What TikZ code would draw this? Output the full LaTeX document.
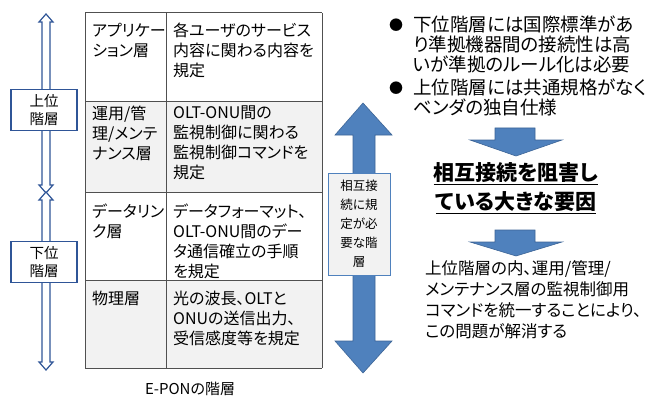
\documentclass[tikz,border=0pt]{standalone}
\usepackage{fontspec}
\setmainfont{Noto Sans CJK JP}[RawFeature=+palt]
\definecolor{arrowblue}{RGB}{79,129,189}
\definecolor{edgeblue}{RGB}{60,100,150}
\definecolor{lineblue}{RGB}{47,85,151}
\definecolor{bandgray}{RGB}{242,242,242}
\definecolor{gridgray}{RGB}{80,80,80}

\begin{document}
\begin{tikzpicture}[x=1pt, y=-1pt,
    cell/.style={anchor=north west, align=left, inner sep=0pt, font=\fontsize{16}{20}\selectfont},
    tag/.style={draw=lineblue, fill=white, line width=1.2pt, minimum width=66pt, minimum height=41pt, inner sep=0pt, align=center, font=\fontsize{14.5}{18}\selectfont},
    hollowarrow/.style={draw=lineblue, fill=white, line width=1.2pt, line join=miter},
    bluearrow/.style={fill=arrowblue, draw=edgeblue, line width=0.6pt},
    bodytext/.style={anchor=north west, align=left, inner sep=0pt, font=\fontsize{18.5}{20}\selectfont}]
    \useasboundingbox (0,0) rectangle (650,401);
    % Left arrows
    \draw[hollowarrow] (46,14) -- (53,22) -- (50,22) -- (50,185) -- (53,185) -- (46,193)
        -- (39,185) -- (42,185) -- (42,22) -- (39,22) -- cycle;
    \draw[hollowarrow] (46,192) -- (53,200) -- (50,200) -- (50,362) -- (53,362) -- (46,370)
        -- (39,362) -- (42,362) -- (42,200) -- (39,200) -- cycle;
    \node[tag] (upper) at (44,110) {上位\\階層};
    \node[tag] (lower) at (44,262) {下位\\階層};
    % Table of layers
    \fill[bandgray] (85,102) rectangle (322,192);
    \fill[bandgray] (85,280) rectangle (322,368);
    \foreach \y in {13,102,192,280,368} {
        \draw[gridgray, line width=1pt] (85,\y) -- (322,\y);
    }
    \foreach \x in {85,166,322} {
        \draw[gridgray, line width=1pt] (\x,13) -- (\x,368);
    }
    \node[cell] (app) at (92,23) {アプリケー\\ション層};
    \node[cell] (appdesc) at (173,23) {各ユーザのサービス\\内容に関わる内容を\\規定};
    \node[cell] (oam) at (92,106) {運用/管\\理/メンテ\\ナンス層};
    \node[cell] (oamdesc) at (173,106) {OLT-ONU間の\\監視制御に関わる\\監視制御コマンドを\\規定};
    \node[cell] (link) at (92,204) {データリン\\ク層};
    \node[cell] (linkdesc) at (173,204) {データフォーマット、\\OLT-ONU間のデー\\タ通信確立の手順\\を規定};
    \node[cell] (phy) at (92,291) {物理層};
    \node[cell] (phydesc) at (173,291) {光の波長、OLTと\\ONUの送信出力、\\受信感度等を規定};
    \node[font=\fontsize{15}{18}\selectfont] (caption) at (190,389) {E-PONの階層};
    % Middle arrow
    \draw[bluearrow] (363,103) -- (392,135) -- (375,135) -- (375,341) -- (392,341) -- (363,373)
        -- (335,341) -- (353,341) -- (353,135) -- (335,135) -- cycle;
    \node[draw=arrowblue, fill=bandgray, minimum width=62pt, minimum height=102pt, inner sep=0pt,
        align=center, font=\fontsize{12.5}{19}\selectfont] (need) at (359,224)
        {相互接\\続に規\\定が必\\要な階\\層};
    % Right side
    \node[inner sep=0pt, font=\fontsize{14}{14}\selectfont] (dot1) at (396,25) {●};
    \node[bodytext] (point1) at (413,16) {下位階層には国際標準があ\\り準拠機器間の接続性は高\\いが準拠のルール化は必要};
    \node[inner sep=0pt, font=\fontsize{14}{14}\selectfont] (dot2) at (396,88) {●};
    \node[bodytext] (point2) at (413,79) {上位階層には共通規格がなく\\ベンダの独自仕様};
    \draw[bluearrow] (495,128) -- (535,128) -- (535,140) -- (562,140) -- (516,156) -- (470,140)
        -- (495,140) -- cycle;
    \node[align=center, inner sep=0pt, font=\fontsize{21}{29}\selectfont\bfseries] (cause) at (516,188)
        {\underline{相互接続を阻害し}\\\underline{ている大きな要因}};
    \draw[bluearrow] (495,230) -- (535,230) -- (535,242) -- (562,242) -- (516,256) -- (470,242)
        -- (495,242) -- cycle;
    \node[bodytext, font=\fontsize{16.5}{21}\selectfont] (answer) at (425,260)
        {上位階層の内、運用/管理/\\メンテナンス層の監視制御用\\コマンドを統一することにより、\\この問題が解消する};
\end{tikzpicture}
\end{document}
